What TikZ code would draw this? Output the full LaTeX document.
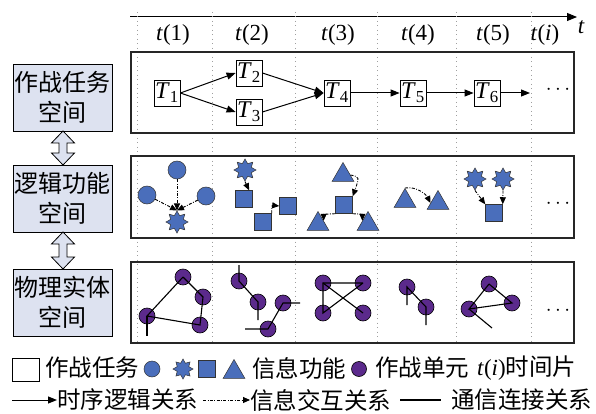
\documentclass[tikz,border=0pt]{standalone}
\usepackage{fontspec}
\setmainfont{Liberation Serif}
\newfontfamily\cjk{Noto Sans CJK SC}
\usetikzlibrary{arrows.meta,shapes.geometric}
\definecolor{boxfill}{HTML}{DDE2F0}
\definecolor{fblue}{HTML}{4A6EBB}
\definecolor{upurple}{HTML}{5B2A8C}

\begin{document}
\begin{tikzpicture}[x=1pt,y=-1pt,
  spacebox/.style={draw, line width=0.8pt, fill=boxfill, minimum width=99, minimum height=67,
    align=center, inner sep=0, font=\cjk\fontsize{24}{30}\selectfont},
  panel/.style={draw=black!85, line width=1.2pt},
  grid/.style={gray!75, line width=1pt, dash pattern=on 1pt off 3.5pt},
  task/.style={draw, line width=0.8pt, fill=white, minimum size=26, inner sep=1,
    font=\fontsize{24}{24}\selectfont},
  seq/.style={line width=1pt, -{Triangle[length=9pt,width=7pt]}},
  info/.style={line width=0.9pt, dash pattern=on 3pt off 1.5pt on 0.8pt off 1.5pt,
    -{Triangle[length=7pt,width=6pt]}},
  comm/.style={line width=1.1pt},
  fcirc/.style={circle, fill=fblue, draw=black!80, line width=0.5pt, minimum size=18, inner sep=0},
  fstar/.style={star, star points=8, star point ratio=1.6, fill=fblue, draw=black!80,
    line width=0.5pt, minimum size=22, inner sep=0},
  fsq/.style={rectangle, fill=fblue, draw=black!80, line width=0.5pt, minimum size=17, inner sep=0},
  ftri/.style={regular polygon, regular polygon sides=3, fill=fblue, draw=black!80,
    line width=0.5pt, minimum size=25, inner sep=0},
  unit/.style={circle, fill=upurple, draw=black, line width=0.6pt, minimum size=16, inner sep=0},
  lab/.style={font=\fontsize{23}{23}\selectfont},
  legtext/.style={anchor=west, inner sep=0, font=\cjk\fontsize{23.5}{23.5}\selectfont},
  dots/.style={font=\fontsize{20}{20}\selectfont}
]
\useasboundingbox (0,0) rectangle (596,414);

% time axis
\coordinate (ax0) at (130,17);
\coordinate (ax1) at (577,17);
\draw[line width=1pt, -{Triangle[length=10pt,width=8pt]}] (ax0) -- (ax1);
\node[font=\fontsize{23}{23}\selectfont\itshape] (tlab) at (581,27) {t};

% time slice dividers
\foreach \x in {137,212,295,377,456,531}
  \draw[grid] (\x,12) -- (\x,343);

% time slice labels
\node[lab] (l1) at (173,35) {\textit{t}(1)};
\node[lab] (l2) at (252,35) {\textit{t}(2)};
\node[lab] (l3) at (338,35) {\textit{t}(3)};
\node[lab] (l4) at (418,35) {\textit{t}(4)};
\node[lab] (l5) at (493,35) {\textit{t}(5)};
\node[lab] (li) at (545,35) {\textit{t}(\textit{i})};

% three layer panels
\draw[panel] (131,52) rectangle (574,133);
\draw[panel] (131,156) rectangle (574,238);
\draw[panel] (131,262) rectangle (574,343);

% space labels
\node[spacebox] (b1) at (62.5,97.5) {作战任务\\空间};
\node[spacebox] (b2) at (62.5,198.5) {逻辑功能\\空间};
\node[spacebox] (b3) at (62.5,302.5) {物理实体\\空间};

% hollow double arrows between spaces
\draw[line width=0.8pt, fill=boxfill]
  (63,131) -- (74.5,143) -- (67,143) -- (67,153) -- (74.5,153) -- (63,165)
  -- (51.5,153) -- (59,153) -- (59,143) -- (51.5,143) -- cycle;
\draw[line width=0.8pt, fill=boxfill]
  (63,232) -- (74.5,244) -- (67,244) -- (67,257) -- (74.5,257) -- (63,269)
  -- (51.5,257) -- (59,257) -- (59,244) -- (51.5,244) -- cycle;

% ---- task layer
\node[task] (T1) at (167,93) {\textit{T}\textsubscript{1}};
\node[task] (T2) at (249,73) {\textit{T}\textsubscript{2}};
\node[task] (T3) at (249,112) {\textit{T}\textsubscript{3}};
\node[task] (T4) at (337,93) {\textit{T}\textsubscript{4}};
\node[task] (T5) at (413,93) {\textit{T}\textsubscript{5}};
\node[task] (T6) at (487,93) {\textit{T}\textsubscript{6}};
\coordinate (Tend) at (530,93);
\node[dots] (td) at (558,90) {$\cdots$};
\draw[seq] (T1.east) -- (T2.west);
\draw[seq] (T1.east) -- (T3.west);
\draw[seq] (T2.east) -- (T4.west);
\draw[seq] (T3.east) -- (T4.west);
\draw[seq] (T4) -- (T5);
\draw[seq] (T5) -- (T6);
\draw[seq] (T6) -- (Tend);

% ---- function layer
\node[fcirc] (c1t) at (177,170) {};
\node[fcirc] (c1l) at (147,195) {};
\node[fcirc] (c1r) at (206,196) {};
\node[fstar] (s1) at (177,222) {};
\draw[info] (c1t) -- (s1.north);
\draw[info] (c1l) -- (s1.north);
\draw[info] (c1r) -- (s1.north);

\node[fstar] (s2) at (245,170) {};
\node[fsq] (q1) at (244,199) {};
\node[fsq] (q2) at (263,222) {};
\node[fsq] (q3) at (288,206) {};
\draw[info] (s2.south) -- (q1.60);
\draw[info] (q2.north east) .. controls +(0,-8) .. (q3.west);

\node[ftri] (t3a) at (343,175) {};
\node[fsq] (q4) at (344,205) {};
\node[ftri] (t3b) at (318,224) {};
\node[ftri] (t3c) at (368,224) {};
\draw[info] (t3a.east) .. controls +(9,2) .. (q4.north east);
\draw[info] (q4.south west) .. controls +(-7,0) and +(0,-6) .. (t3b.30);
\draw[info] (q4.south east) .. controls +(7,0) and +(0,-6) .. (t3c.150);

\node[ftri] (t4a) at (405,201) {};
\node[ftri] (t4b) at (438,203) {};
\draw[info] (t4a.north) .. controls +(12,-2) and +(-4,-8) .. (t4b.west);

\node[fstar] (s5a) at (475,179) {};
\node[fstar] (s5b) at (503,179) {};
\node[fsq] (q5) at (494,213) {};
\draw[info] (s5a.south) -- (q5.north west);
\draw[info] (s5b.south) -- (q5.north east);
\node[dots] (fd) at (558,204) {$\cdots$};

% ---- physical layer
\node[unit] (p1a) at (183,277) {};
\node[unit] (p1b) at (203,297) {};
\node[unit] (p1c) at (200,325) {};
\node[unit] (p1d) at (147,316) {};
\coordinate (p1s) at (147,336);
\draw[comm] (p1a.center) -- (p1b.center) -- (p1c.center) -- (p1d.center) -- (p1a.center);
\draw[comm] (p1d.center) -- (p1s);

\node[unit] (p2e) at (239,281) {};
\node[unit] (p2f) at (258,302) {};
\node[unit] (p2g) at (283,303) {};
\node[unit] (p2h) at (268,329) {};
\coordinate (p2es) at (239,265);
\coordinate (p2fs) at (258,320);
\coordinate (p2gs) at (300,303);
\coordinate (p2hs) at (245,329);
\draw[comm] (p2es) -- (p2e.center) -- (p2f.center) -- (p2fs);
\draw[comm] (p2gs) -- (p2g.center) -- (p2h.center) -- (p2hs);

\node[unit] (p3i) at (323,283) {};
\node[unit] (p3j) at (363,283) {};
\node[unit] (p3k) at (323,313) {};
\node[unit] (p3l) at (363,313) {};
\draw[comm] (p3j.center) -- (p3i.center) -- (p3k.center) -- (p3j.center);
\draw[comm] (p3i.center) -- (p3l.center);

\node[unit] (p4m) at (407,287) {};
\node[unit] (p4n) at (426,307) {};
\coordinate (p4ms) at (407,305);
\coordinate (p4ns) at (426,325);
\draw[comm] (p4ms) -- (p4m.center) -- (p4n.center) -- (p4ns);

\node[unit] (p5o) at (489,284) {};
\node[unit] (p5p) at (512,303) {};
\node[unit] (p5q) at (469,309) {};
\coordinate (p5qs) at (492,328);
\draw[comm] (p5o.center) -- (p5p.center) -- (p5q.center) -- (p5o.center);
\draw[comm] (p5q.center) -- (p5qs);
\node[dots] (pd) at (558,311) {$\cdots$};

% ---- legend, first row
\node[draw, line width=0.8pt, minimum width=27, minimum height=23, inner sep=0] (gtask) at (25.5,369.5) {};
\node[legtext] (gtaskt) at (45,368) {作战任务};
\node[fcirc, minimum size=16] (gc) at (152,369) {};
\node[fstar, minimum size=20] (gs) at (183,369) {};
\node[fsq, minimum size=17] (gq) at (207,369) {};
\node[ftri, minimum size=25] (gt) at (234,372) {};
\node[legtext] (gft) at (252,368) {信息功能};
\node[unit, minimum size=15] (gu) at (359,369) {};
\node[legtext] (gut) at (375,368) {作战单元};
\node[legtext] (gtt) at (477,368) {{\rmfamily\fontsize{23}{23}\selectfont\textit{t}(\textit{i})}时间片};

% ---- legend, second row
\coordinate (ga0) at (12,400);
\node[legtext] (gseq) at (57,400) {时序逻辑关系};
\draw[seq] (ga0) -- (gseq.west);
\coordinate (gb0) at (203,400);
\node[legtext] (ginfo) at (250,400) {信息交互关系};
\draw[info] (gb0) -- (ginfo.west);
\coordinate (gc0) at (400,400);
\coordinate (gc1) at (441,400);
\draw[comm] (gc0) -- (gc1);
\node[legtext] (gcomm) at (451,400) {通信连接关系};
\end{tikzpicture}
\end{document}
